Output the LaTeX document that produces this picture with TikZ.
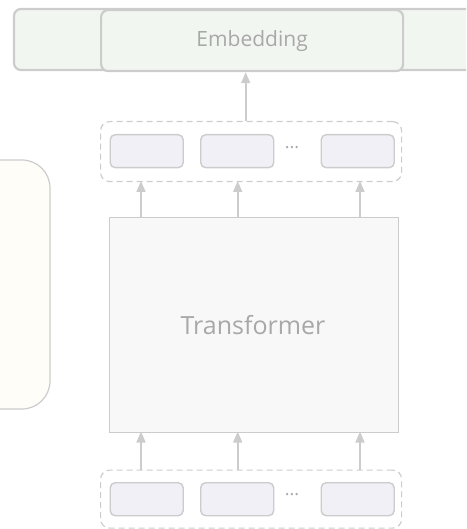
\documentclass[tikz,border=0pt]{standalone}
\usepackage{fontspec}
\setmainfont{Open Sans}
\usetikzlibrary{arrows.meta}
\definecolor{edge}{HTML}{CCCCCC}
\definecolor{label}{HTML}{A8A8A8}
\definecolor{embfill}{HTML}{F2F6F1}
\definecolor{tokfill}{HTML}{F0F0F6}
\definecolor{trfill}{HTML}{F8F8F8}
\definecolor{sidefill}{HTML}{FFFDF8}
\tikzset{
  x=1pt, y=-1pt,
  embbox/.style={draw=edge, line width=2.2pt, fill=embfill, rounded corners=7pt},
  tokbox/.style={draw=edge, line width=1.4pt, fill=tokfill, rounded corners=5pt},
  groupbox/.style={draw=edge, line width=1.2pt, dash pattern=on 6pt off 4pt, rounded corners=9pt},
  arr/.style={draw=edge, line width=1.6pt, -{Triangle[length=11pt,width=9pt]}},
  txt/.style={text=label},
  dots/.style={text=label, font=\fontsize{18}{20}\selectfont},
}
\begin{document}
\begin{tikzpicture}
\useasboundingbox (0,0) rectangle (466,529);
\begin{scope}
\clip (0,0) rectangle (466,529);
% side panel on the left
\draw[draw=edge, line width=1.2pt, fill=sidefill, rounded corners=28pt] (-40,160) rectangle (50,409);
% embedding strip
\draw[embbox] (14,9) rectangle (490,70);
\end{scope}
\node[embbox, minimum width=302pt, minimum height=61pt, anchor=north west, inner sep=0pt] (emb) at (100,9) {};
\node[txt, font=\fontsize{21}{24}\selectfont] at (emb.center) {Embedding};

% output tokens
\node[groupbox, minimum width=301pt, minimum height=60pt, anchor=north west] (outg) at (100,121) {};
\node[tokbox, minimum width=73pt, minimum height=33pt, anchor=north west] (o1) at (109.5,134) {};
\node[tokbox, minimum width=73pt, minimum height=33pt, anchor=north west] (o2) at (200,134) {};
\node[tokbox, minimum width=73pt, minimum height=33pt, anchor=north west] (o3) at (320.5,134) {};
\node[dots] (od) at (292,148) {...};

% transformer block
\node[draw=edge, line width=1.2pt, fill=trfill, minimum width=289pt, minimum height=215pt, anchor=north west] (tr) at (108.5,216.5) {};
\node[txt, font=\fontsize{25}{28}\selectfont] at (253,325) {Transformer};

% input tokens
\node[groupbox, minimum width=301pt, minimum height=58pt, anchor=north west] (ing) at (100,469.5) {};
\node[tokbox, minimum width=73pt, minimum height=33pt, anchor=north west] (i1) at (109.5,482) {};
\node[tokbox, minimum width=73pt, minimum height=33pt, anchor=north west] (i2) at (200,482) {};
\node[tokbox, minimum width=73pt, minimum height=33pt, anchor=north west] (i3) at (320.5,482) {};
\node[dots] (id) at (292,495) {...};

% connectors
\coordinate (ea) at (245.7,121);
\draw[arr] (ea) -- (ea |- emb.south);
\draw[arr] (141,216.5) -- (141,181);
\draw[arr] (237.7,216.5) -- (237.7,181);
\draw[arr] (360,216.5) -- (360,181);
\draw[arr] (141,469.5) -- (141,431.5);
\draw[arr] (237.7,469.5) -- (237.7,431.5);
\draw[arr] (360,469.5) -- (360,431.5);
\end{tikzpicture}
\end{document}
